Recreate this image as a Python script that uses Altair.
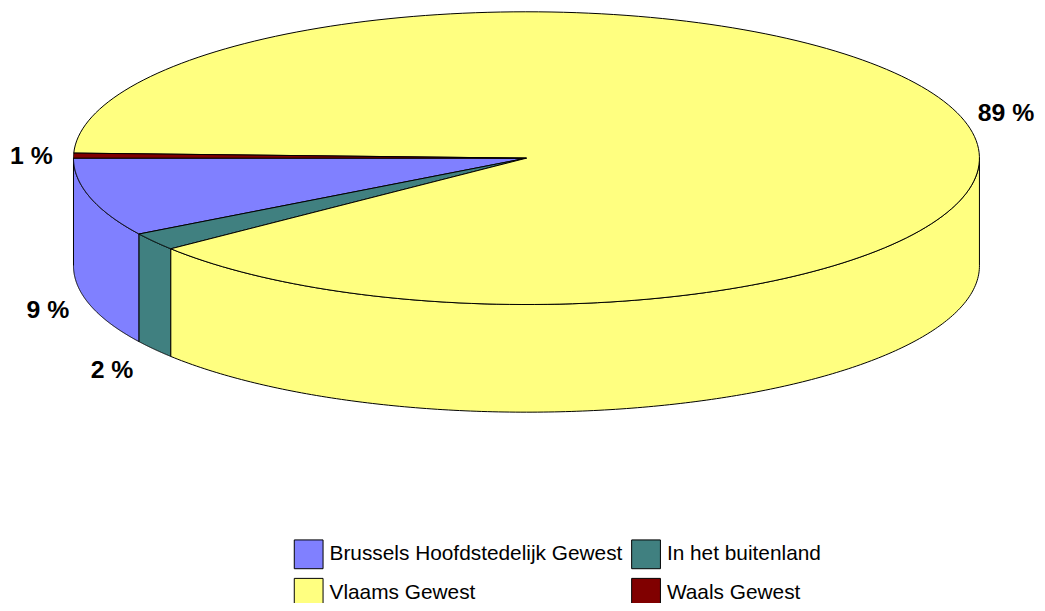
import altair as alt
import pandas as pd

# ---- data (shares in %) ----
categories = ["Brussels Hoofdstedelijk Gewest", "In het buitenland", "Vlaams Gewest", "Waals Gewest"]
shares = [8.67, 1.96, 88.82, 0.55]
palette = ["#8080FF", "#408080", "#FFFF80", "#800000"]

# ---- geometry of the tilted pie (pixel units of the plot area) ----
W, H = 1037, 595
CX, CY, RX, RY, DEPTH = 522.5, 149.0, 456.5, 147.5, 108.5
START_DEG = 180
N = 200

df = pd.DataFrame({"cat": categories, "value": shares, "idx": list(range(len(categories)))})

xs = alt.X("px:Q", scale=alt.Scale(domain=[0, W], nice=False, zero=False), axis=None)
ys = alt.Y("py:Q", scale=alt.Scale(domain=[0, H], reverse=True, nice=False, zero=False), axis=None)
color_scale = alt.Scale(domain=categories, range=palette)

base = alt.Chart(df).transform_window(
    cum="sum(value)", sort=[alt.SortField("idx", order="ascending")], frame=[None, 0]
).transform_joinaggregate(total="sum(value)").transform_calculate(
    hi=f"{START_DEG} - 360 * (datum.cum - datum.value) / datum.total",
    lo=f"{START_DEG} - 360 * datum.cum / datum.total",
)

# side walls (front half only)
wall = base.transform_calculate(
    a="max(datum.lo, 0)", b="min(datum.hi, 180)"
).transform_filter("datum.b > datum.a").transform_calculate(
    seq=f"sequence(0, {N + 1})"
).transform_flatten(["seq"]).transform_calculate(
    t=f"(datum.b - (datum.b - datum.a) * datum.seq / {N}) * PI / 180"
).transform_calculate(
    px=f"{CX} + {RX} * cos(datum.t)",
    py=f"{CY} + {RY} * sin(datum.t)",
    py2=f"{CY} + {RY} * sin(datum.t) + {DEPTH}",
).mark_area(stroke="black", strokeWidth=1, opacity=1).encode(
    x=xs,
    y=ys,
    y2="py2:Q",
    color=alt.Color(
        "cat:N",
        scale=color_scale,
        legend=alt.Legend(
            title=None, orient="none", legendX=288, legendY=533, columns=2,
            direction="horizontal",
            symbolType="square", symbolSize=841, symbolStrokeColor="black",
            symbolStrokeWidth=1, symbolOpacity=1, labelFont="Liberation Sans",
            labelFontSize=21, labelColor="black", labelOffset=6, labelLimit=600,
            columnPadding=6, rowPadding=5, padding=0,
        ),
    ),
)

# top face wedges
top = base.transform_calculate(
    seq=f"sequence(-1, {N + 1})"
).transform_flatten(["seq"]).transform_calculate(
    t=f"(datum.hi - (datum.hi - datum.lo) * max(datum.seq, 0) / {N}) * PI / 180"
).transform_calculate(
    px=f"datum.seq < 0 ? {CX} : {CX} + {RX} * cos(datum.t)",
    py=f"datum.seq < 0 ? {CY} : {CY} + {RY} * sin(datum.t)",
).mark_line(
    filled=True, interpolate="linear-closed", stroke="black", strokeWidth=1, strokeJoin="round"
).encode(
    x=xs, y=ys,
    color=alt.Color("cat:N", scale=color_scale, legend=None),
    order=alt.Order("seq:Q"),
)

# percentage labels
lab = base.transform_calculate(
    m="(datum.hi + datum.lo) / 2 * PI / 180"
).transform_calculate(
    c="cos(datum.m)", s="sin(datum.m)",
    lbl="format(100 * datum.value / datum.total, '.0f') + ' %'",
).transform_calculate(
    px=f"{CX} + {RX} * datum.c + (datum.c >= 0 ? 21 : -21)",
    py=f"{CY} + {RY} * datum.s + (datum.s > 0 ? {DEPTH} + 65 * datum.s * datum.s : 0)",
)
text_style = dict(font="Liberation Sans", fontSize=25, fontWeight="bold", color="black", baseline="middle")
lab_r = lab.transform_filter("datum.c >= 0").mark_text(align="left", **text_style).encode(x=xs, y=ys, text="lbl:N")
lab_l = lab.transform_filter("datum.c < 0").mark_text(align="right", **text_style).encode(x=xs, y=ys, text="lbl:N")

chart = alt.layer(wall, top, lab_r, lab_l).properties(
    width=W, height=H, autosize=alt.AutoSizeParams(type="none"), padding=0
).configure_view(stroke=None)

chart.save("out.html", embed_options={"renderer": "svg", "actions": False})
